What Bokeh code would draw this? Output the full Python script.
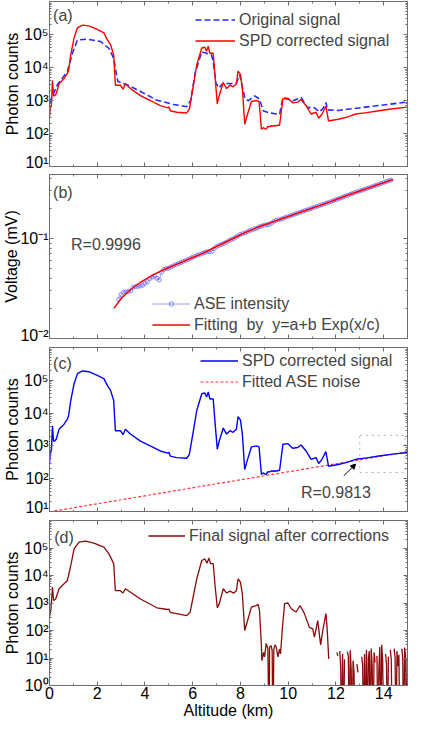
import math
from bokeh.plotting import figure
from bokeh.models import (Range1d, LinearAxis, LogAxis, FixedTicker, Legend, LegendItem,
                          Label, BoxAnnotation, Arrow, NormalHead, CustomJSTickFormatter)
from bokeh.layouts import column
from bokeh.embed import file_html
from bokeh.resources import INLINE

# ---------------- data ----------------
# SPD corrected signal (panel a red / panel c blue)
spd_alt = [0.0, 0.03, 0.08, 0.125, 0.17, 0.22, 0.28, 0.4, 0.61, 0.75, 0.8, 0.89, 1.03, 1.17, 1.38,
           1.65, 2.0, 2.28, 2.42, 2.56, 2.69, 2.76, 2.97, 3.08, 3.18, 3.39, 3.81, 4.22, 4.64, 4.95,
           5.0, 5.06, 5.33, 5.75, 5.86, 6.03, 6.17, 6.38, 6.51, 6.58, 6.65, 6.72, 6.86, 6.93, 7.03,
           7.11, 7.28, 7.42, 7.56, 7.69, 7.83, 7.9, 8.0, 8.08, 8.18, 8.28, 8.46, 8.67, 8.78, 8.88,
           8.95, 9.02, 9.08, 9.15, 9.22, 9.3, 9.38, 9.45, 9.52, 9.58, 9.64, 9.78, 9.99, 10.19, 10.4,
           10.54, 10.75, 10.96, 11.17, 11.28, 11.42, 11.58, 11.69, 12.1, 12.5, 12.83, 13.3, 13.8,
           14.3, 15.0]
spd_val = [300, 600, 700, 4000, 1400, 1400, 1600, 3200, 4600, 6600, 8300, 24000, 79000, 160000, 193000,
           183000, 142000, 112000, 70000, 49000, 24000, 2900, 2900, 2200, 3200, 2300, 1400, 1000, 700, 600,
           640, 490, 440, 420, 550, 2900, 12000, 39000, 41000, 31000, 44000, 27000, 27000, 5900, 790,
           1400, 3500, 2300, 2900, 2600, 3200, 7800, 6200, 2300, 190, 350, 930, 1000, 930, 135,
           150, 140, 135, 165, 160, 172, 168, 175, 170, 180, 178, 1120, 1170, 850, 890,
           1070, 700, 390, 440, 290, 390, 670, 240, 270, 320, 390, 430, 490,
           550, 630]

# Original signal (panel a, blue dashed)
orig_alt = [0.0, 0.125, 0.33, 0.75, 0.96, 1.17, 1.58, 2.14, 2.49, 2.69, 2.86, 3.25, 3.8, 4.5, 5.2,
            5.75, 5.92, 6.1, 6.38, 6.58, 6.79, 6.86, 6.97, 7.1, 7.28, 7.55, 7.83, 7.97, 8.08, 8.18,
            8.32, 8.6, 8.8, 8.95, 9.22, 9.64, 9.78, 10.2, 10.54, 10.82, 11.1, 11.3, 11.45, 11.58,
            11.65, 12.1, 15.0]
orig_val = [850, 1350, 3000, 7600, 27000, 68000, 72000, 61000, 38000, 19000, 3800, 3000, 1900, 1020, 760,
            650, 1020, 6700, 30000, 27000, 24000, 15000, 3400, 2400, 3400, 3200, 3400, 6000, 2600, 1230,
            980, 1380, 1100, 490, 420, 380, 1230, 980, 1230, 610, 610, 450, 560, 870,
            520, 500, 900]

# ASE intensity (panel b), sampled every 0.1 km from 2.9 km
ase_start, ase_step = 2.9, 0.1
ase_val = [0.0247, 0.0275, 0.0290, 0.0293, 0.0295, 0.0300, 0.0325, 0.0330, 0.0332, 0.0334,
           0.0340, 0.0355, 0.0370, 0.0395, 0.0410, 0.0420, 0.0400, 0.0385, 0.0460, 0.0490,
           0.0500, 0.0505, 0.0520, 0.0535, 0.0548, 0.0560, 0.0572, 0.0590, 0.0600, 0.0618,
           0.0632, 0.0650, 0.0662, 0.0680, 0.0692, 0.0708, 0.0722, 0.0735, 0.0735, 0.0742,
           0.0790, 0.0830, 0.0850, 0.0870, 0.0890, 0.0915, 0.0945, 0.0975, 0.0990, 0.1030,
           0.1060, 0.1100, 0.1120, 0.1140, 0.1170, 0.1200, 0.1220, 0.1250, 0.1270, 0.1310,
           0.1330, 0.1360, 0.1370, 0.1380, 0.1420, 0.1480, 0.1520, 0.1540, 0.1560, 0.1590,
           0.1630, 0.1660, 0.1690, 0.1720, 0.1760, 0.1790, 0.1830, 0.1860, 0.1900, 0.1930,
           0.1970, 0.2010, 0.2050, 0.2090, 0.2130, 0.2170, 0.2210, 0.2250, 0.2300, 0.2340,
           0.2390, 0.2440, 0.2490, 0.2540, 0.2590, 0.2660, 0.2700, 0.2760, 0.2820, 0.2880,
           0.2930, 0.2990, 0.3040, 0.3100, 0.3160, 0.3220, 0.3280, 0.3350, 0.3410, 0.3480,
           0.3550, 0.3620, 0.3690, 0.3760, 0.3830]
ase_alt = [round(ase_start + ase_step * i, 2) for i in range(len(ase_val))]

# Fitting curve y=a+b Exp(x/c) (panel b, red)
fit_alt = [2.7, 3.0, 3.4, 3.8, 4.3, 4.8, 5.3, 5.8, 6.4, 7.0, 7.6, 8.2, 8.8, 9.4, 10.0, 10.6,
           11.2, 11.8, 12.4, 13.0, 13.6, 14.2, 14.4]
fit_val = [0.0200, 0.0251, 0.0309, 0.0363, 0.0427, 0.0490, 0.0550, 0.0617, 0.0708, 0.0832, 0.0977,
           0.1148, 0.1318, 0.1479, 0.1660, 0.1862, 0.2089, 0.2344, 0.2660, 0.2985, 0.3350,
           0.3758, 0.3890]

# Fitted ASE noise (panel c, red dashed)
noise_alt = [0.0, 15.0]
noise_val = [9.8, 660]

# Final signal after corrections (panel d)
nan = float("nan")
fin_alt = [0.0, 0.06, 0.125, 0.17, 0.26, 0.4, 0.75, 0.89, 1.03, 1.24, 1.51, 1.86, 2.28, 2.49, 2.69,
           2.76, 2.97, 3.08, 3.18, 3.81, 4.5, 4.95, 5.0, 5.06, 5.75, 5.89, 6.17, 6.38, 6.51, 6.6,
           6.68, 6.75, 6.86, 6.93, 7.03, 7.11, 7.28, 7.42, 7.56, 7.72, 7.83, 7.9, 8.0, 8.08, 8.18,
           8.28, 8.46, 8.67, 8.74, 8.8, 8.875, 8.9, 8.97, 9.01, 9.08, 9.15, 9.2, 9.22, 9.29, 9.33,
           9.36, 9.4, 9.45, 9.5, 9.57, 9.64, 9.68, 9.75, 9.85, 9.99, 10.13, 10.33, 10.5, 10.68,
           10.89, 11.03, 11.1, 11.24, 11.36, 11.45, 11.58, 11.63, 11.7, 11.72,
           12.00, 12.04, 12.08, 12.12, 12.16, 12.20, 12.24, 12.28, 12.32, 12.36, 12.40, 12.44,
           12.48, 12.52, 12.56, 12.60, 12.64, 12.68, 12.72, 12.76, 12.80, 12.84, 12.88, 12.92,
           12.96, 13.00, 13.04, 13.08, 13.12, 13.16, 13.20, 13.24, 13.28, 13.32, 13.36, 13.40,
           13.44, 13.48, 13.52, 13.56, 13.60, 13.64, 13.68, 13.72, 13.76, 13.80, 13.84, 13.88,
           13.92, 13.96, 14.00, 14.04, 14.08, 14.12, 14.16, 14.20, 14.24, 14.28, 14.32, 14.36,
           14.40, 14.44, 14.48, 14.52, 14.56, 14.60, 14.64, 14.68, 14.72, 14.76, 14.80, 14.84,
           14.88, 14.92, 14.96, 15.00]
fin_val = [300, 610, 3800, 1230, 1400, 3300, 6600, 23000, 93000, 163000, 178000, 150000, 107000, 61000, 27000,
           2800, 2800, 2300, 3300, 1400, 670, 580, 600, 460, 350, 460, 7600, 35000, 40000, 28000,
           43000, 27000, 27000, 5000, 670, 930, 3300, 2300, 2700, 2300, 2800, 7600, 5700, 2100, 100,
           200, 710, 810, 900, 530, 33, 8, 16, 11, 34, 22, 0.01, 25, 28, 18,
           0.01, 21, 30, 25, 11, 21, 14, 100, 950, 1000, 620, 470, 810, 410,
           130, 115, 57, 230, 30, 100, 410, 130, 9.3, nan,
           nan, 16, 12, nan, 18, 5, 0.01, 14, 0.01, 9, nan, nan,
           17, 12, 0.01, 19, 4, 0.01, 8, 3, 0.01, nan, 6, 3,
           nan, 24, nan, 11, 6, 0.01, 14, 0.01, 20, 0.01, 10, 18,
           0.01, 22, 5, 0.01, 16, 7, nan, 12, 0.01, 4, 25, 0.01,
           30, 8, 0.01, nan, 14, 6, 0.01, 11, nan, 20, 9, 0.01,
           nan, 22, 10, 0.01, 18, 5, 13, 0.01, nan, 22, 10, 0.01,
           24, 12, 0.01, 10]

# tick values
x_major = [0, 2, 4, 6, 8, 10, 12, 14]
x_minor = [1, 3, 5, 7, 9, 11, 13, 15]

# ---------------- styling helpers ----------------
FONT = "Liberation Sans"
GREY = "#6e6e6e"
FW = 358
BL = 46
SUP = {"0": "\u2070", "1": "\u00b9", "2": "\u00b2", "3": "\u00b3", "4": "\u2074",
       "5": "\u2075", "6": "\u2076", "7": "\u2077", "8": "\u2078", "9": "\u2079", "-": "\u207b"}


def log_fmt():
    return CustomJSTickFormatter(args=dict(sup=SUP), code="""
        const e = Math.round(Math.log10(tick));
        return '10' + String(e).split('').map(c => sup[c]).join('');
    """)


def blank_fmt():
    return CustomJSTickFormatter(code="return '';")


def minor_log(lo_exp, hi_exp):
    return [k * 10.0 ** d for d in range(lo_exp, hi_exp) for k in range(2, 10)]


def style_axis(ax, show_labels):
    ax.axis_line_color = GREY
    ax.major_tick_line_color = GREY
    ax.minor_tick_line_color = GREY
    ax.major_tick_in = 4
    ax.major_tick_out = 0
    ax.minor_tick_in = 2
    ax.minor_tick_out = 0
    ax.axis_label_text_font = FONT
    ax.axis_label_text_font_style = "normal"
    ax.axis_label_text_font_size = "16px"
    ax.axis_label_text_color = "black"
    ax.major_label_text_font = FONT
    ax.major_label_text_color = "black"
    if show_labels:
        ax.major_label_text_font_size = "16px"
        ax.major_label_standoff = 2
        ax.axis_label_standoff = 0
    else:
        ax.major_label_text_font_size = "0px"
        ax.major_label_standoff = 0
        ax.axis_label_standoff = 0
        ax.formatter = blank_fmt()


def make_fig(fheight, ylo, yhi, ymaj, yminor, btop, bbottom, ylabel, xlabels, ylab_standoff=0):
    p = figure(frame_width=FW, frame_height=fheight, x_range=Range1d(0, 15),
               y_range=Range1d(ylo, yhi), y_axis_type="log", output_backend="svg",
               toolbar_location=None, min_border_left=BL, min_border_right=8,
               min_border_top=btop, min_border_bottom=bbottom)
    p.grid.visible = False
    p.outline_line_color = GREY
    p.outline_line_width = 1
    p.xaxis.ticker = FixedTicker(ticks=x_major, minor_ticks=x_minor)
    p.yaxis.ticker = FixedTicker(ticks=ymaj, minor_ticks=yminor)
    for ax in p.xaxis:
        style_axis(ax, xlabels)
        if xlabels:
            ax.axis_label = "Altitude (km)"
            ax.major_label_standoff = 1
    for ax in p.yaxis:
        style_axis(ax, True)
        ax.formatter = log_fmt()
        ax.axis_label = ylabel
        ax.major_label_standoff = 1
        ax.axis_label_standoff = ylab_standoff
    top = LinearAxis(ticker=FixedTicker(ticks=x_major, minor_ticks=x_minor))
    style_axis(top, False)
    p.add_layout(top, "above")
    right = LogAxis(ticker=FixedTicker(ticks=ymaj, minor_ticks=yminor))
    style_axis(right, False)
    p.add_layout(right, "right")
    return p


def make_legend(items, loc, gw, gh=21):
    return Legend(items=items, location=loc, glyph_width=gw, glyph_height=gh, label_height=21,
                  label_standoff=4, padding=0, margin=0, spacing=0,
                  border_line_color=None, background_fill_alpha=0,
                  label_text_font=FONT, label_text_font_size="16px")


def panel_label(p, text, x, y):
    p.add_layout(Label(x=x, y=y, text=text, text_font=FONT, text_font_size="16px",
                       text_baseline="middle", text_align="left"))


# ---------------- panel (a) ----------------
pa = make_fig(165, 10, 1e6, [1e1, 1e2, 1e3, 1e4, 1e5], minor_log(1, 6), 1, 4, "Photon counts", False)
ra1 = pa.line(orig_alt, orig_val, line_color="#2a2aff", line_width=1.6, line_dash="6 3")
ra2 = pa.line(spd_alt, spd_val, line_color="#ff0000", line_width=1.4)
pa.add_layout(make_legend([LegendItem(label="Original signal", renderers=[ra1]),
                           LegendItem(label="SPD corrected signal", renderers=[ra2])], (146, 115), 40))
panel_label(pa, "(a)", 0.15, 10 ** 5.58)

# ---------------- panel (b) ----------------
pb = make_fig(164, 0.01, 0.436, [0.01, 0.1], minor_log(-2, 0), 4, 5, "Voltage (mV)", False,
              ylab_standoff=-3)
rb_line = pb.line(ase_alt, ase_val, line_color="#8080ff", line_width=0.8)
rb_pts = pb.scatter(ase_alt, ase_val, marker="circle", size=4, line_color="#7070ff",
                    fill_color=None, line_width=0.8)
rb_fit = pb.line(fit_alt, fit_val, line_color="#ff0000", line_width=1.5)
pb.add_layout(make_legend([LegendItem(label="ASE intensity", renderers=[rb_line, rb_pts]),
                           LegendItem(label="Fitting  by  y=a+b Exp(x/c)", renderers=[rb_fit])],
                          (103, 3), 38, gh=11))
panel_label(pb, "(b)", 0.15, 0.29)
panel_label(pb, "R=0.9996", 0.9, 0.087)

# ---------------- panel (c) ----------------
pc = make_fig(164, 10, 1e6, [1e1, 1e2, 1e3, 1e4, 1e5], minor_log(1, 6), 4, 4, "Photon counts", False)
rc_noise = pc.line(noise_alt, noise_val, line_color="#ff3838", line_width=1.2, line_dash="3 2")
rc_spd = pc.line(spd_alt, spd_val, line_color="#0000ff", line_width=1.4)
pc.add_layout(make_legend([LegendItem(label="SPD corrected signal", renderers=[rc_spd]),
                           LegendItem(label="Fitted ASE noise", renderers=[rc_noise])], (151, 119), 38))
panel_label(pc, "(c)", 0.15, 10 ** 5.52)
panel_label(pc, "R=0.9813", 10.54, 38)
pc.add_layout(BoxAnnotation(left=13.0, right=14.9, bottom=155, top=2100, fill_alpha=0,
                            line_color="black", line_width=1, line_dash="dotted"))
pc.add_layout(Arrow(x_start=12.33, y_start=123, x_end=12.83, y_end=279, line_color="black",
                    line_width=1, end=NormalHead(size=5, fill_color="black", line_color="black")))

# ---------------- panel (d) ----------------
pd_ = make_fig(165, 1, 1e6, [1e0, 1e1, 1e2, 1e3, 1e4, 1e5], minor_log(0, 6), 5, 30, "Photon counts", True)
rd = pd_.line(fin_alt, fin_val, line_color="#8b0a0a", line_width=1.3)
pd_.add_layout(make_legend([LegendItem(label="Final signal after corrections", renderers=[rd])],
                           (99, 139), 37))
panel_label(pd_, "(d)", 0.2, 10 ** 5.39)

layout = column(pa, pb, pc, pd_, spacing=0)
open("out.html", "w").write(file_html(layout, INLINE))
